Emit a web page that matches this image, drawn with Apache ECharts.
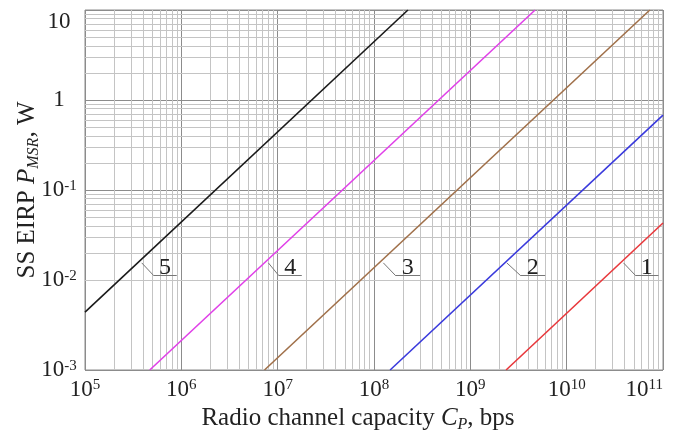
<!DOCTYPE html>
<html>
<head>
<meta charset="utf-8">
<script src="https://cdn.jsdelivr.net/npm/echarts@6/dist/echarts.min.js"></script>
<style>
html, body { margin: 0; padding: 0; background: #fff; }
#main { width: 681px; height: 438px; }
</style>
</head>
<body>
<div id="main"></div>
<script>
// curves 1..5 : end points (C in bps, P in W)
var curveLabels = ['1', '2', '3', '4', '5'];
var capacityEnds = [
    [2.35e9, 1e11],
    [1.47e8, 1e11],
    [7.3e6, 7.3e10],
    [4.7e5, 4.7e9],
    [1e5, 2.25e8]
];
var powerEnds = [
    [1e-3, 0.043],
    [1e-3, 0.68],
    [1e-3, 10],
    [1e-3, 10],
    [4.4e-3, 10]
];
// tick labels (decade exponents)
var xTickExp = [5, 6, 7, 8, 9, 10, 11];
var yTickExp = [-3, -2, -1, 0, 1];
// leader of each curve label : start, knee, end capacity
var leaderC = [
    [3.89e10, 5.15e10, 8.98e10],
    [2.39e9, 3.29e9, 5.98e9],
    [1.25e8, 1.66e8, 3.01e8],
    [8.0e6, 1.02e7, 1.78e7],
    [3.88e5, 5.12e5, 8.96e5]
];
var leaderP = [0.0155, 0.0113];

var colors = ['#e8383c', '#3a3adc', '#a0704a', '#e040e8', '#1a1a1a'];
var serif = 'Liberation Serif';

var myChart = echarts.init(document.getElementById('main'));

var tickRich = {
    b: { fontSize: 23, fontFamily: serif, color: '#222' },
    s: { fontSize: 15, fontFamily: serif, color: '#222', verticalAlign: 'top' }
};
var nameRich = {
    n: { fontSize: 25, fontFamily: serif, color: '#222', lineHeight: 30 },
    i: { fontSize: 25, fontFamily: serif, color: '#222', fontStyle: 'italic', lineHeight: 30 },
    sub: { fontSize: 16, fontFamily: serif, color: '#222', fontStyle: 'italic', verticalAlign: 'bottom', lineHeight: 16 }
};

function decadeLabel(exps, plainSmall) {
    return function (value) {
        var e = Math.round(Math.log(value) / Math.LN10);
        if (exps.indexOf(e) < 0) return '';
        if (plainSmall && e === 0) return '{b|1}';
        if (plainSmall && e === 1) return '{b|10}';
        return '{b|10}{s|' + e + '}';
    };
}

// minor log grid (2..9 in every decade)
var minorLines = [];
for (var e = 5; e < 11; e++) {
    for (var m = 2; m < 10; m++) minorLines.push({ xAxis: m * Math.pow(10, e) });
}
for (var e2 = -3; e2 < 1; e2++) {
    for (var m2 = 2; m2 < 10; m2++) minorLines.push({ yAxis: m2 * Math.pow(10, e2) });
}

var series = [{
    type: 'line',
    data: [],
    z: 1,
    silent: true,
    markLine: {
        z: 1,
        silent: true,
        symbol: 'none',
        animation: false,
        label: { show: false },
        lineStyle: { color: '#c4c4c4', width: 1, type: 'solid' },
        emphasis: { disabled: true },
        data: minorLines
    }
}];

curveLabels.forEach(function (name, i) {
    var c = leaderC[i];
    series.push({
        name: name,
        type: 'line',
        z: 3,
        symbol: 'none',
        showSymbol: false,
        lineStyle: { color: colors[i], width: 1.6 },
        data: [[capacityEnds[i][0], powerEnds[i][0]], [capacityEnds[i][1], powerEnds[i][1]]],
        markLine: {
            z: 2,
            silent: true,
            symbol: 'none',
            animation: false,
            label: { show: false },
            lineStyle: { color: '#777', width: 1, type: 'solid' },
            emphasis: { disabled: true },
            data: [
                [{ coord: [c[0], leaderP[0]] }, { coord: [c[1], leaderP[1]] }],
                [{
                    coord: [c[1], leaderP[1]],
                    label: {
                        show: true,
                        formatter: name,
                        position: 'insideMiddleTop',
                        distance: 0,
                        offset: [0, 4],
                        fontSize: 24,
                        fontFamily: serif,
                        color: '#222'
                    }
                }, { coord: [c[2], leaderP[1]] }]
            ]
        }
    });
});

var option = {
    animation: false,
    backgroundColor: '#fff',
    grid: {
        left: 85,
        right: 18,
        top: 10,
        bottom: 65,
        show: true,
        borderColor: '#8c8c8c',
        borderWidth: 1
    },
    xAxis: {
        type: 'log',
        logBase: 10,
        min: 1e5,
        max: 1e11,
        splitNumber: 6,
        axisLine: { show: false },
        axisTick: { show: false },
        minorTick: { show: false },
        splitLine: { show: true, lineStyle: { color: '#8c8c8c', width: 1 } },
        axisLabel: {
            margin: 8,
            formatter: decadeLabel(xTickExp, false),
            rich: tickRich,
            alignMaxLabel: 'right'
        },
        name: '{n|Radio channel capacity }{i|C}{sub|P}{n|, bps}',
        nameLocation: 'middle',
        nameGap: 33,
        nameMoveOverlap: false,
        nameTextStyle: { rich: nameRich, padding: [0, 32, 0, 0] }
    },
    yAxis: {
        type: 'log',
        logBase: 10,
        min: 1e-3,
        max: 10,
        splitNumber: 4,
        axisLine: { show: false },
        axisTick: { show: false },
        minorTick: { show: false },
        splitLine: { show: true, lineStyle: { color: '#8c8c8c', width: 1 } },
        axisLabel: {
            margin: 26,
            align: 'center',
            formatter: decadeLabel(yTickExp, true),
            rich: tickRich,
            verticalAlignMaxLabel: 'top'
        },
        name: '{n|SS EIRP }{i|P}{sub|MSR}{n|, W}',
        nameLocation: 'middle',
        nameRotate: 90,
        nameGap: 43,
        nameMoveOverlap: false,
        nameTextStyle: { rich: nameRich }
    },
    series: series
};

myChart.setOption(option);
</script>
</body>
</html>
